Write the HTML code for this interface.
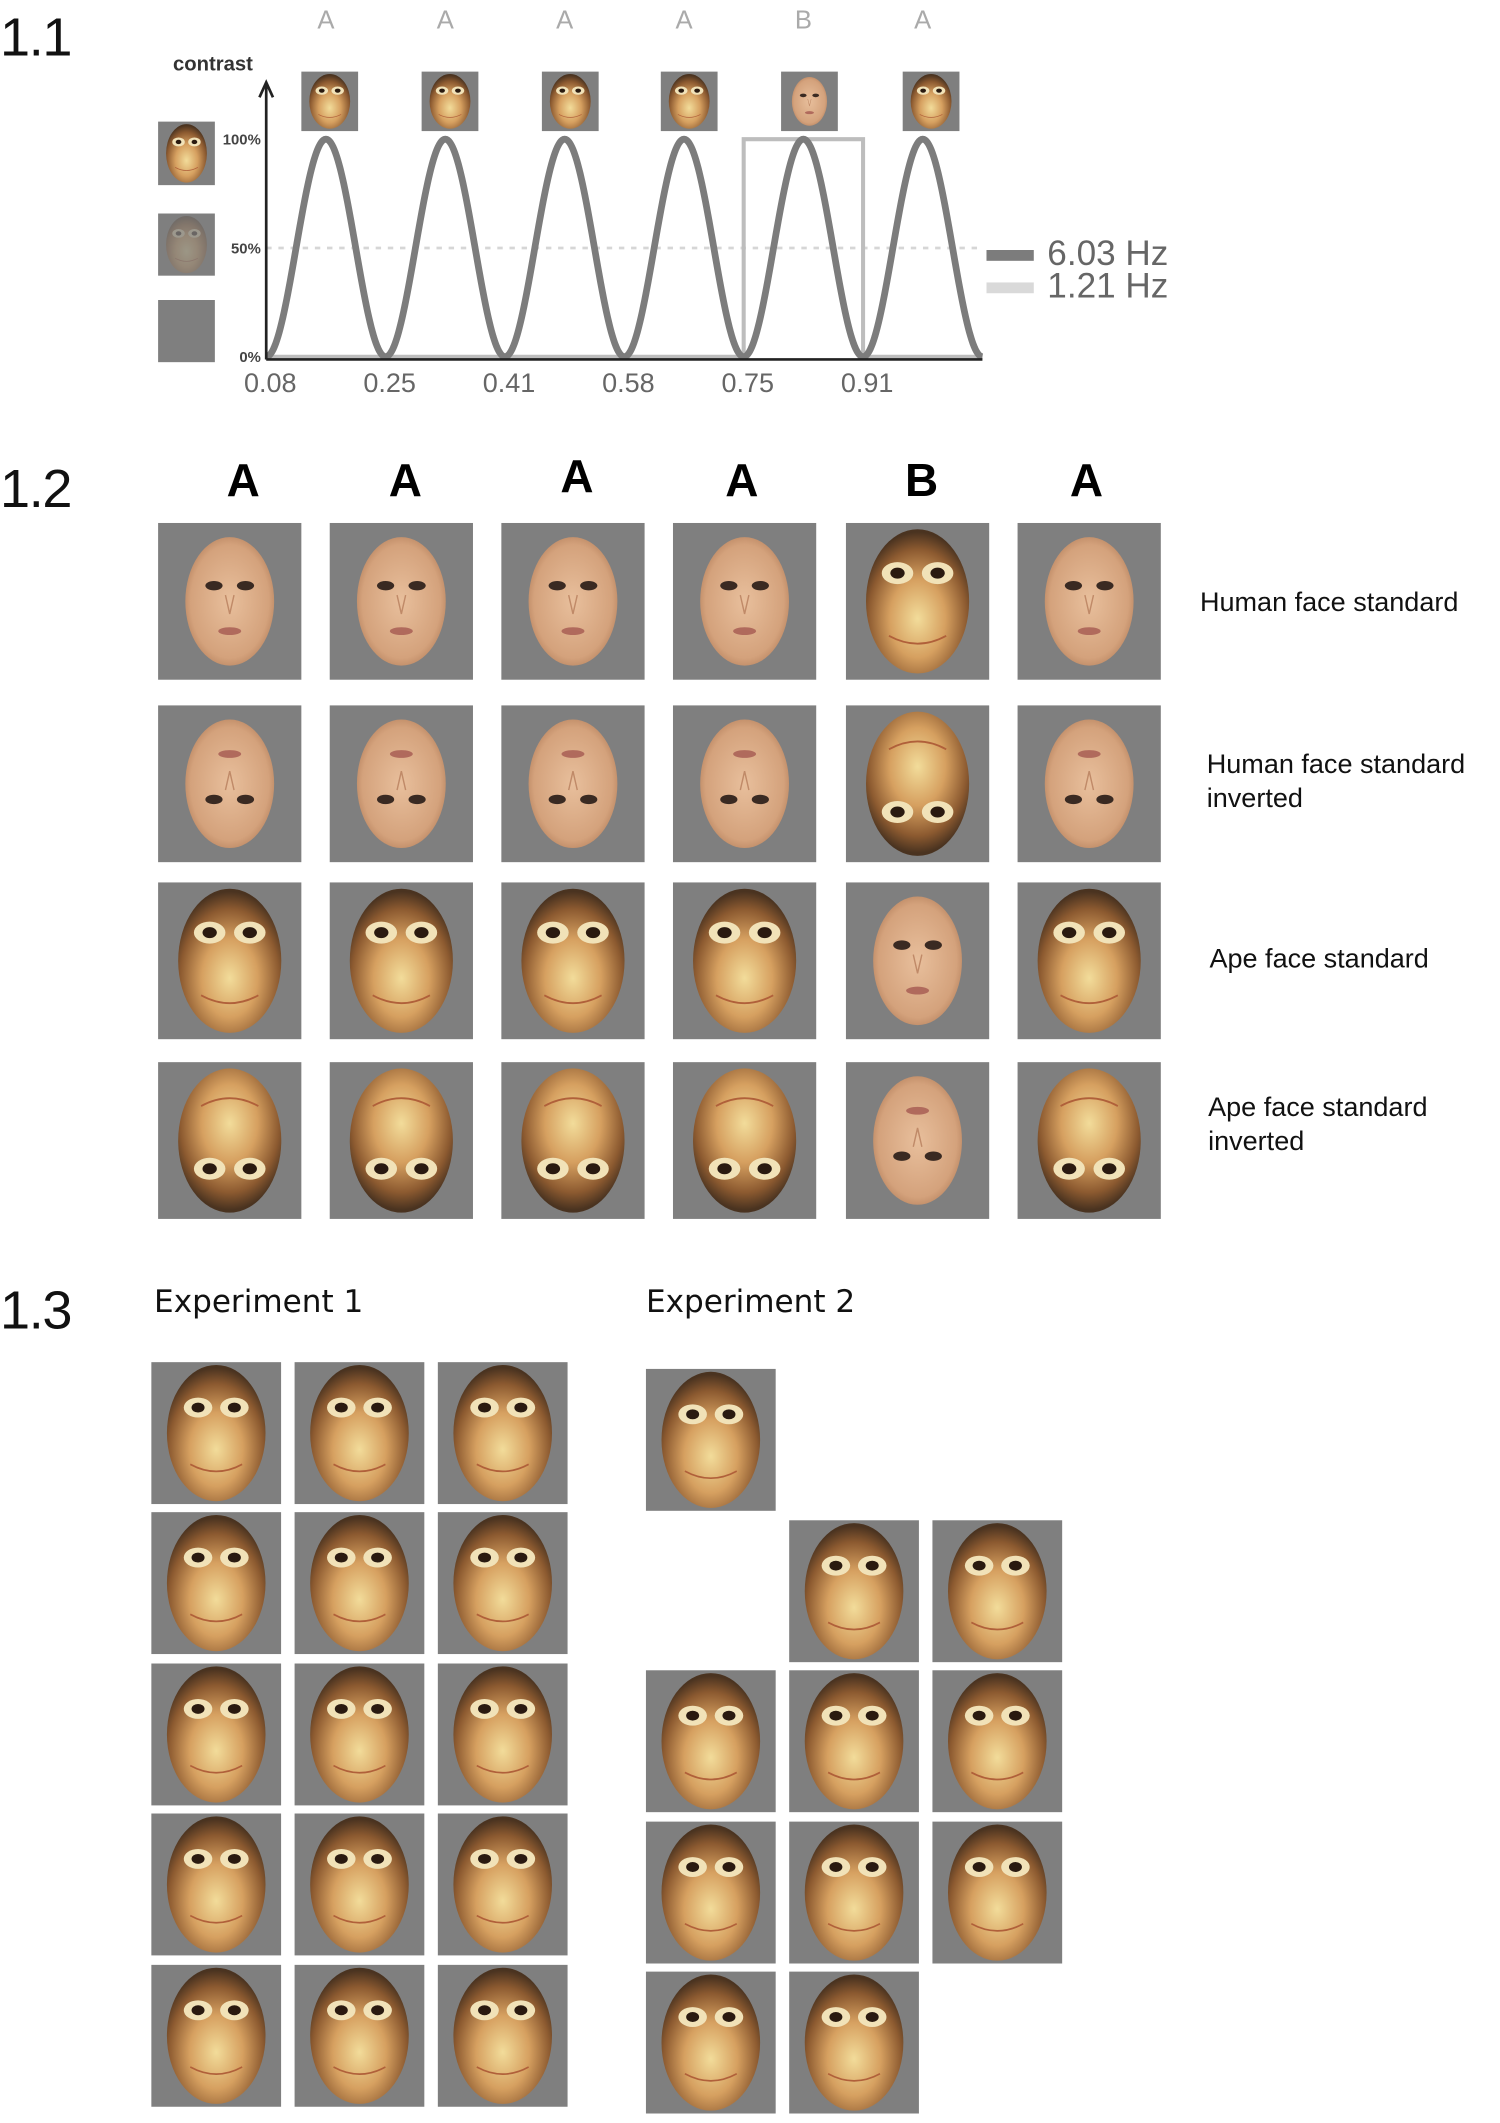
<!DOCTYPE html>
<html><head><meta charset="utf-8">
<style>
html,body{margin:0;padding:0;background:#fff;}
body{width:1500px;height:2123px;overflow:hidden;position:relative;font-family:"Liberation Sans",sans-serif;}
#root{position:absolute;left:0;top:0;width:1110px;height:1571px;transform:scale(1.35135);transform-origin:0 0;}
.abs{position:absolute;}
.tile{position:absolute;background:#7f7f7f;}
.tile svg{position:absolute;left:0;top:0;width:100%;height:100%;}
.panel{position:absolute;font-size:40px;color:#111;letter-spacing:-1px;}
.lbl{position:absolute;font-size:20px;color:#111;line-height:25px;}
.big{position:absolute;font-family:"Liberation Sans",sans-serif;font-weight:bold;font-size:34px;color:#000;transform:translateX(-50%);}
.exp{position:absolute;font-family:"DejaVu Sans",sans-serif;font-size:23px;color:#111;}
</style></head>
<body>
<div id="root">
  <div class="panel" style="left:0;top:6px;">1.1</div>
  <div class="panel" style="left:0;top:340px;">1.2</div>
  <div class="panel" style="left:0;top:948px;">1.3</div>

  <svg id="chart" class="abs" style="left:0;top:0" width="1110" height="310"></svg>

  <div class="lbl" style="left:888px;top:434px">Human face standard</div>
  <div class="lbl" style="left:893px;top:554px">Human face standard<br>inverted</div>
  <div class="lbl" style="left:895px;top:698px">Ape face standard</div>
  <div class="lbl" style="left:894px;top:808px">Ape face standard<br>inverted</div>

  <div class="exp" style="left:114px;top:951px">Experiment 1</div>
  <div class="exp" style="left:478px;top:951px">Experiment 2</div>
</div>
<script>
// ---- chart data ----
const seqLetters = ['A','A','A','A','B','A'];
const tickLabels = [0.08, 0.25, 0.41, 0.58, 0.75, 0.91];
const contrastTicks = [0, 50, 100];
const contrastTickText = ['0%', '50%', '100%'];
const baseFreq = [6.03];
const oddFreq = [1.21];
const legendLabels = ['6.03 Hz', '1.21 Hz'];
const tStart = 0.08, nCycles = 6;

const NS = 'http://www.w3.org/2000/svg';
const svg = document.getElementById('chart');
const tEnd = tStart + nCycles / baseFreq[0];
const X0 = 197, X1 = 727, Y0 = 264, Y100 = 103;
function xS(t){ return X0 + (t - tStart) / (tEnd - tStart) * (X1 - X0); }
function yS(c){ return Y0 - c / 100 * (Y0 - Y100); }
function el(tag, attrs, parent){ const e = document.createElementNS(NS, tag); for (const k in attrs) e.setAttribute(k, attrs[k]); (parent||svg).appendChild(e); return e; }

let g = el('line', {x1:X0, x2:X1, y1:yS(50), y2:yS(50), stroke:'#d6d6d6', 'stroke-width':2, 'stroke-dasharray':'4,5'});



const period = 1 / baseFreq[0];
const oddIdx = seqLetters.indexOf('B');
const sq0 = tStart + oddIdx * period, sq1 = sq0 + period;
let sq = el('polyline', {points:`${X0},${yS(0)} ${xS(sq0)},${yS(0)} ${xS(sq0)},${yS(100)} ${xS(sq1)},${yS(100)} ${xS(sq1)},${yS(0)} ${X1},${yS(0)}`, fill:'none', stroke:'#bdbdbd', 'stroke-width':3});



let pts = [];
for (let i = 0; i <= 600; i++) {
  const t = tStart + (tEnd - tStart) * i / 600;
  const c = 50 * (1 - Math.cos(2 * Math.PI * baseFreq[0] * (t - tStart)));
  pts.push(xS(t).toFixed(2) + ',' + yS(c).toFixed(2));
}
let sine = el('polyline', {points: pts.join(' '), fill:'none', stroke:'#7c7c7c', 'stroke-width':5});



let xa = el('line', {x1:X0, x2:X1, y1:266, y2:266, stroke:'#222', 'stroke-width':2});


let ya = el('line', {x1:X0, x2:X0, y1:266, y2:62, stroke:'#222', 'stroke-width':2});


let ar = el('polyline', {points:`${X0-5},${72} ${X0},${61} ${X0+5},${72}`, fill:'none', stroke:'#222', 'stroke-width':2});


let yt = el('text', {x:128, y:52, 'font-size':15, 'font-weight':'bold', fill:'#333', 'font-family':'Liberation Sans'});
yt.textContent = 'contrast';



contrastTicks.forEach((c, i) => {
  const t = el('text', {x:193, y:yS(c)+4, 'font-size':11, 'font-weight':'bold', fill:'#444', 'text-anchor':'end', 'font-family':'Liberation Sans'});
  t.textContent = contrastTickText[i];
  
  
});
tickLabels.forEach(v => {
  const t = el('text', {x:xS(tStart + Math.round((v - tStart) * baseFreq[0]) / baseFreq[0]) + 3, y:290, 'font-size':20, fill:'#666', 'text-anchor':'middle', 'font-family':'Liberation Sans'});
  t.textContent = v.toFixed(2);
  
  
});
seqLetters.forEach((L, i) => {
  const cx = xS(tStart + (i + 0.5) * period);
  const t = el('text', {x:cx, y:21, 'font-size':19, fill:'#aaa', 'text-anchor':'middle', 'font-family':'Liberation Sans'});
  t.textContent = L;
  
  
});
[['#7c7c7c', 185, legendLabels[0]], ['#d9d9d9', 209, legendLabels[1]]].forEach(([col, y, txt]) => {
  const r = el('rect', {x:730, y:y, width:35, height:8, fill:col});
  
  
  const t = el('text', {x:775, y:y+11, 'font-size':26, fill:'#666', 'font-family':'Liberation Sans'});
  t.textContent = txt;
  
  
});

// ---- face tiles ----
const root = document.getElementById('root');
let uid = 0;
function face(x, y, w, h, type, inv, opts) {
  opts = opts || {};
  const d = document.createElement('div');
  d.className = 'tile';
  d.style.left = x + 'px'; d.style.top = y + 'px'; d.style.width = w + 'px'; d.style.height = h + 'px';
  
  
  root.appendChild(d);
  if (type === 'blank') return;
  const id = 'g' + (uid++);
  const op = opts.faded ? 0.25 : 1;
  let s = `<svg viewBox="0 0 100 100" preserveAspectRatio="none"><g opacity="${op}" ${inv ? 'transform="rotate(180 50 50)"' : ''}>`;
  if (type === 'ape') {
    const rx = opts.rx || 36, ry = opts.ry || 46;
    s += `<defs><radialGradient id="${id}" cx="50%" cy="62%" r="60%"><stop offset="0" stop-color="#f2dc9a"/><stop offset="0.45" stop-color="#d6a060"/><stop offset="0.8" stop-color="#8c5a30"/><stop offset="1" stop-color="#4a3320"/></radialGradient></defs>`;
    s += `<ellipse cx="50" cy="50" rx="${rx}" ry="${ry}" fill="url(#${id})"/>`;
    s += `<ellipse cx="36" cy="32" rx="11" ry="7" fill="#f1e2b8"/><ellipse cx="64" cy="32" rx="11" ry="7" fill="#f1e2b8"/>`;
    s += `<ellipse cx="36" cy="32" rx="5" ry="3.5" fill="#2a1a10"/><ellipse cx="64" cy="32" rx="5" ry="3.5" fill="#2a1a10"/>`;
    s += `<path d="M30 72 Q50 82 70 72" stroke="#b0603a" stroke-width="1.2" fill="none"/>`;
  } else {
    s += `<defs><radialGradient id="${id}" cx="50%" cy="50%" r="55%"><stop offset="0" stop-color="#e8bf9c"/><stop offset="0.8" stop-color="#d4a27c"/><stop offset="1" stop-color="#b88460"/></radialGradient></defs>`;
    s += `<ellipse cx="50" cy="50" rx="31" ry="41" fill="url(#${id})"/>`;
    s += `<ellipse cx="39" cy="40" rx="6" ry="3" fill="#3a2a22"/><ellipse cx="61" cy="40" rx="6" ry="3" fill="#3a2a22"/>`;
    s += `<path d="M47 46 L50 58 L53 46" stroke="#c08a68" stroke-width="1" fill="none"/>`;
    s += `<ellipse cx="50" cy="69" rx="8" ry="2.5" fill="#b06a5c"/>`;
  }
  s += `</g></svg>`;
  d.innerHTML = s;
}

const topPeaks = [244, 333, 422, 510, 599, 689];
seqLetters.forEach((L, i) => face(topPeaks[i] - 21, 53, 42, 44, L === 'B' ? 'human' : 'ape', false));
face(117, 90, 42, 47, 'ape', false);
face(117, 158, 42, 46, 'ape', false, {faded: true});
face(117, 222, 42, 46, 'blank');

const bigX = [180, 300, 427, 549, 682, 804];
const bigY = [337, 337, 334, 337, 337, 337];
seqLetters.forEach((L, i) => {
  const e = document.createElement('div');
  e.className = 'big'; e.textContent = L;
  e.style.left = bigX[i] + 'px'; e.style.top = bigY[i] + 'px';
  
  
  root.appendChild(e);
});
const colsX = [117, 244, 371, 498, 626, 753];
const rowsY = [387, 522, 653, 786];
const rowType = [['human', false], ['human', true], ['ape', false], ['ape', true]];
rowsY.forEach((ry, r) => {
  colsX.forEach((cx, c) => {
    let [t, inv] = rowType[r];
    if (c === 4) t = (t === 'human') ? 'ape' : 'human';
    face(cx, ry, 106, 116, t, inv);
  });
});

const e1x = [112, 218, 324], e1y = [1008, 1119, 1231, 1342, 1454];
e1y.forEach(y => e1x.forEach(x => face(x, y, 96, 105, 'ape', false, {rx: 38, ry: 48})));
const e2x = [478, 584, 690];
const e2rows = [[1013, [1, 0, 0]], [1125, [0, 1, 1]], [1236, [1, 1, 1]], [1348, [1, 1, 1]], [1459, [1, 1, 0]]];
e2rows.forEach(([y, m]) => m.forEach((on, i) => { if (on) face(e2x[i], y, 96, 105, 'ape', false, {rx: 38, ry: 48}); }));
</script>
</body></html>
